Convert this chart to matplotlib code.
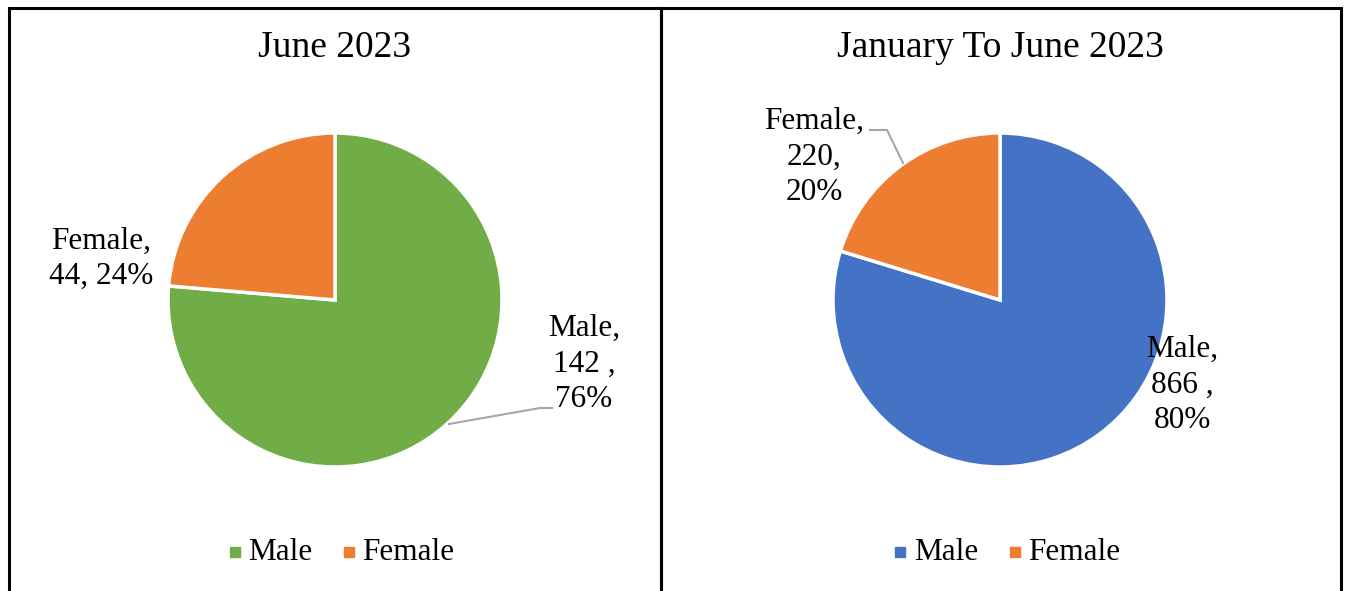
import matplotlib
matplotlib.use("Agg")
import matplotlib.pyplot as plt
from matplotlib.patches import Rectangle

plt.rcParams['font.family'] = ['Liberation Serif', 'DejaVu Serif']

categories = ["Male", "Female"]
june_values = [142, 44]
june_pct = [76, 24]
ytd_values = [866, 220]
ytd_pct = [80, 20]
titles = ["June 2023", "January To June 2023"]

W, H = 1348, 591
fig = plt.figure(figsize=(W / 100, H / 100), dpi=100)
ax = fig.add_axes([0, 0, 1, 1])
ax.set_xlim(0, W)
ax.set_ylim(0, H)
ax.set_aspect('equal')
ax.axis('off')

def Y(y):
    return H - y

# panel borders
for x0, x1 in [(9, 661), (661, 1341)]:
    ax.plot([x0, x0, x1, x1], [Y(600), Y(8), Y(8), Y(600)], color='black', lw=2.2,
            solid_joinstyle='miter', clip_on=False)

panels = [
    dict(cx=335, vals=june_values, pct=june_pct, colors=['#70AD47', '#ED7D31'], title=titles[0]),
    dict(cx=1000, vals=ytd_values, pct=ytd_pct, colors=['#4472C4', '#ED7D31'], title=titles[1]),
]

for p in panels:
    ax.pie(p['vals'], colors=p['colors'], startangle=90, counterclock=False,
           center=(p['cx'], Y(300)), radius=167, frame=True,
           wedgeprops=dict(edgecolor='white', linewidth=2.5))
    ax.text(p['cx'], Y(48), p['title'], ha='center', va='center', fontsize=27)

ax.set_xlim(0, W)
ax.set_ylim(0, H)
ax.axis('off')

fs = 22.5
ls = 1.3
# left labels
ax.text(101, Y(259), "{},\n{}, {}%".format(categories[1], june_values[1], june_pct[1]),
        ha='center', va='center', fontsize=fs, linespacing=ls)
ax.text(584, Y(364), "{},\n{} ,\n{}%".format(categories[0], june_values[0], june_pct[0]),
        ha='center', va='center', fontsize=fs, linespacing=ls)
ax.plot([449, 540, 552], [Y(424), Y(408), Y(408)], color='#A6A6A6', lw=1.5)

# right labels
ax.text(814, Y(157), "{},\n{},\n{}%".format(categories[1], ytd_values[1], ytd_pct[1]),
        ha='center', va='center', fontsize=fs, linespacing=ls)
ax.text(1182, Y(385), "{},\n{} ,\n{}%".format(categories[0], ytd_values[0], ytd_pct[0]),
        ha='center', va='center', fontsize=fs, linespacing=ls)
ax.plot([903, 887, 870], [Y(163), Y(130), Y(130)], color='#A6A6A6', lw=1.5)

# legends
legend_pos = [
    [(235, 248), (349, 362)],
    [(900, 914), (1015, 1028)],
]
for p, pos in zip(panels, legend_pos):
    for cat, col, (mx, tx) in zip(categories, p['colors'], pos):
        ax.add_patch(Rectangle((mx - 5, Y(557)), 10, 10, color=col))
        ax.text(tx, Y(552), cat, ha='left', va='center', fontsize=fs)

fig.savefig("out.png", dpi=100)
